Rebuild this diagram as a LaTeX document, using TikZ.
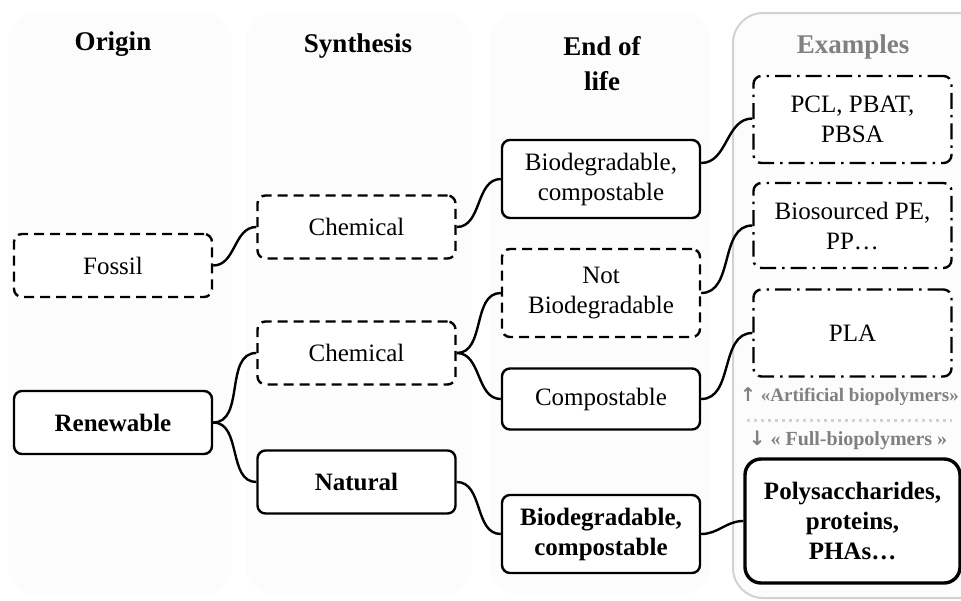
\documentclass[tikz,border=0pt]{standalone}
\usepackage{fontspec}
\setmainfont{Liberation Serif}
\newfontfamily\arrowfont{DejaVu Sans}
\usepackage{tikz}
\usetikzlibrary{positioning}
\definecolor{colBg}{HTML}{FCFCFC}
\definecolor{exGrey}{HTML}{808080}
\definecolor{exBorder}{HTML}{D2D2D2}
\tikzstyle{link} = [line width=2.4pt, out=0, in=180]
\tikzstyle{roundRec} = [rectangle, rounded corners=8pt, minimum width=198pt, minimum height=63pt, align=center, draw=black, fill=white, line width=2.4pt, font=\fontsize{25}{30}\selectfont]
\tikzstyle{boldRec} = [roundRec, font=\fontsize{25}{30}\selectfont\bfseries]
\tikzstyle{dashRec} = [roundRec, dash pattern=on 10pt off 6pt]
\tikzstyle{dotRec} = [roundRec, dash pattern=on 16pt off 6pt on 2.5pt off 6pt]
\tikzstyle{column} = [rectangle, rounded corners=30pt, fill=colBg]
\tikzstyle{title} = [align=center, font=\fontsize{27}{35}\selectfont\bfseries]
\tikzstyle{note} = [text=exGrey, font=\fontsize{20}{24}\selectfont\bfseries]
\begin{document}
\begin{tikzpicture}[x=1pt, y=-1pt]
				\useasboundingbox (0,0) rectangle (961,600);
				% columns
				\fill [column] (8,12) rectangle (232,595);
				\fill [column] (246,12) rectangle (472,595);
				\fill [column] (490,12) rectangle (711,595);
				\draw [column, draw=exBorder, line width=2pt] (733,13) rectangle (990,598);
				\node (origin) [title] at (113,44) {Origin};
				\node (synth) [title] at (358,46) {Synthesis};
				\node (eol) [title] at (602,64) {End of\\life};
				\node (examples) [title, text=exGrey] at (853,47) {Examples};
				% origin
				\node (fossil) [dashRec] at (113,265.5) {Fossil};
				\node (renew) [boldRec] at (113,422.5) {Renewable};
				% synthesis
				\node (chemA) [dashRec] at (356.5,227) {Chemical};
				\node (chemB) [dashRec] at (356.5,353) {Chemical};
				\node (natural) [boldRec] at (356.5,482) {Natural};
				% end of life
				\node (bioA) [roundRec, minimum height=78pt] at (601,179) {Biodegradable,\\compostable};
				\node (notBio) [dashRec, minimum height=88pt] at (601,293) {Not\\Biodegradable};
				\node (compost) [roundRec, minimum height=61pt] at (601,399) {Compostable};
				\node (bioB) [boldRec, minimum height=78pt] at (601,534) {Biodegradable,\\compostable};
				% examples
				\node (pcl) [dotRec, minimum height=87pt] at (852.5,119.5) {PCL, PBAT,\\PBSA};
				\node (bioPE) [dotRec, minimum height=85pt] at (852.5,225.5) {Biosourced PE,\\PP\dots};
				\node (pla) [dotRec, minimum height=87pt] at (852.5,333) {PLA};
				\node (poly) [boldRec, minimum width=215pt, minimum height=124pt, rounded corners=16pt, line width=3.4pt] at (852.5,521) {Polysaccharides,\\proteins,\\PHAs\dots};
				\node (artif) [note, anchor=west, inner sep=0pt, font=\fontsize{19}{23}\selectfont\bfseries] at (740,397) {{\arrowfont\bfseries ↑} «Artificial biopolymers»};
				\node (full) [note] at (848,440) {{\arrowfont\bfseries ↓} « Full-biopolymers »};
				\coordinate (sepL) at (747,420);
				\coordinate (sepR) at (952,420);
				\draw [exBorder, line width=3pt, dash pattern=on 3pt off 4pt] (sepL) -- (sepR);
				% links
				\draw [link] (fossil.east) to (chemA.west);
				\draw [link] (renew.east) to (chemB.west);
				\draw [link] (renew.east) to (natural.west);
				\draw [link] (chemA.east) to (bioA.west);
				\draw [link] (chemB.east) to (notBio.west);
				\draw [link] (chemB.east) to (compost.west);
				\draw [link] (natural.east) to (bioB.west);
				\draw [link] ([yshift=16pt]bioA.east) to ([yshift=1pt]pcl.west);
				\draw [link] (notBio.east) to (bioPE.west);
				\draw [link] (compost.east) to (pla.west);
				\draw [link] (bioB.east) to (poly.west);
			\end{tikzpicture}
\end{document}
